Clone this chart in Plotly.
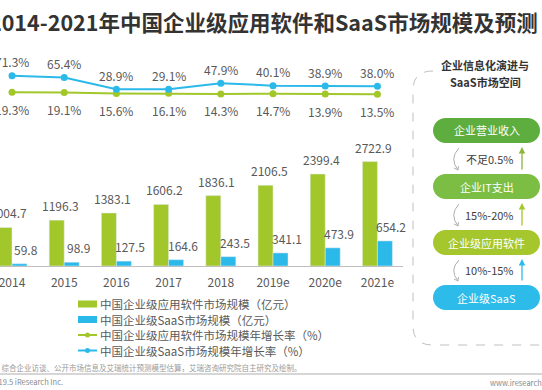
import plotly.graph_objects as go

# ---------------- data ----------------
years = ["2014", "2015", "2016", "2017", "2018", "2019e", "2020e", "2021e"]
app_software = [1004.7, 1196.3, 1383.1, 1606.2, 1836.1, 2106.5, 2399.4, 2722.9]
saas = [59.8, 98.9, 127.5, 164.6, 243.5, 341.1, 473.9, 654.2]
app_growth = [19.3, 19.1, 15.6, 16.1, 14.3, 14.7, 13.9, 13.5]
saas_growth = [71.3, 65.4, 28.9, 29.1, 47.9, 40.1, 38.9, 38.0]

legend_names = [
    "中国企业级应用软件市场规模（亿元）",
    "中国企业级SaaS市场规模（亿元）",
    "中国企业级应用软件市场规模年增长率（%）",
    "中国企业级SaaS市场规模年增长率（%）",
]
title_text = "2014-2021年中国企业级应用软件和SaaS市场规模及预测"
source_text = "来源：综合企业访谈、公开市场信息及艾瑞统计预测模型估算，艾瑞咨询研究院自主研究及绘制。"
copyright_text = "©2019.5 iResearch Inc."
website_text = "www.iresearch.com.cn"
panel_title = ["企业信息化演进与", "SaaS市场空间"]
pill_labels = ["企业营业收入", "企业IT支出", "企业级应用软件", "企业级SaaS"]
ratio_labels = ["不足0.5%", "15%-20%", "10%-15%"]

# ---------------- styles ----------------
W, H = 542, 390
GREEN = "#A2C72A"
BLUE = "#2BB9EA"
TXT = "#595959"
FONT = "Noto Sans CJK SC"
pill_colors = ["#5EAE3F", "#7BBE43", "#A5C72D", "#2DBBEA"]
up_arrow_colors = ["#8DB43C", "#A5C72D", "#2DBBEA"]


def X(px):
    return px / W


def Y(py):
    return 1 - py / H


fig = go.Figure()

fig.add_trace(go.Bar(x=years, y=app_software, marker_color=GREEN, name=legend_names[0],
                     xaxis="x", yaxis="y", showlegend=False))
fig.add_trace(go.Bar(x=years, y=saas, marker_color=BLUE, name=legend_names[1],
                     xaxis="x", yaxis="y", showlegend=False))
fig.add_trace(go.Scatter(x=years, y=app_growth, mode="lines+markers", name=legend_names[2],
                         line=dict(color=GREEN, width=2), marker=dict(size=7, color=GREEN),
                         xaxis="x", yaxis="y2", showlegend=False, cliponaxis=False))
fig.add_trace(go.Scatter(x=years, y=saas_growth, mode="lines+markers", name=legend_names[3],
                         line=dict(color=BLUE, width=2), marker=dict(size=7, color=BLUE),
                         xaxis="x", yaxis="y2", showlegend=False, cliponaxis=False))

annotations = []
shapes = []

# bar value labels (x given as category index, since the year strings look numeric)
for i, v in enumerate(app_software):
    annotations.append(dict(x=i, y=v, xref="x", yref="y", text=f"{v:.1f}", showarrow=False,
                            xanchor="center", yanchor="bottom", xshift=-4, yshift=4,
                            font=dict(size=12, color=TXT, family=FONT)))
for i, v in enumerate(saas):
    annotations.append(dict(x=i, y=v, xref="x", yref="y", text=f"{v:.1f}", showarrow=False,
                            xanchor="center", yanchor="bottom", xshift=14, yshift=4,
                            font=dict(size=12, color=TXT, family=FONT)))
# growth labels
for i, v in enumerate(saas_growth):
    annotations.append(dict(x=i, y=v, xref="x", yref="y2", text=f"{v:.1f}%", showarrow=False,
                            xanchor="center", yanchor="middle", yshift=14,
                            font=dict(size=12, color=TXT, family=FONT)))
for i, v in enumerate(app_growth):
    annotations.append(dict(x=i, y=v, xref="x", yref="y2", text=f"{v:.1f}%", showarrow=False,
                            xanchor="center", yanchor="middle", yshift=-17,
                            font=dict(size=12, color=TXT, family=FONT)))

# title
annotations.append(dict(x=0, y=Y(21), xref="paper", yref="paper", text=f"<b>{title_text}</b>",
                        showarrow=False, xanchor="left", yanchor="middle", xshift=-13,
                        font=dict(size=21.5, color="#333333", family=FONT)))

# custom legend
leg_x0, leg_x1, leg_tx = 78, 97, 98
leg_rows = [304, 319.5, 335, 350.5]
for i, (name, ry) in enumerate(zip(legend_names, leg_rows)):
    col = GREEN if i % 2 == 0 else BLUE
    if i < 2:
        shapes.append(dict(type="rect", xref="paper", yref="paper", x0=X(leg_x0), x1=X(leg_x1),
                           y0=Y(ry + 3.5), y1=Y(ry - 3.5), fillcolor=col, line=dict(width=0)))
    else:
        shapes.append(dict(type="line", xref="paper", yref="paper", x0=X(leg_x0), x1=X(leg_x1),
                           y0=Y(ry), y1=Y(ry), line=dict(color=col, width=2)))
        cx = (leg_x0 + leg_x1) / 2
        shapes.append(dict(type="circle", xref="paper", yref="paper", x0=X(cx - 2.5), x1=X(cx + 2.5),
                           y0=Y(ry + 2.5), y1=Y(ry - 2.5), fillcolor=col, line=dict(width=0)))
    annotations.append(dict(x=X(leg_tx), y=Y(ry), xref="paper", yref="paper", text=name,
                            showarrow=False, xanchor="left", yanchor="middle",
                            font=dict(size=11.5, color=TXT, family=FONT)))

# footer
annotations.append(dict(x=0, y=Y(367), xref="paper", yref="paper", text=source_text, showarrow=False,
                        xanchor="left", yanchor="middle", xshift=-23,
                        font=dict(size=7.5, color="#9a9a9a", family=FONT)))
shapes.append(dict(type="line", xref="paper", yref="paper", x0=0, x1=1, y0=Y(374), y1=Y(374),
                   line=dict(color="#c8c8c8", width=1.5)))
annotations.append(dict(x=0, y=Y(381), xref="paper", yref="paper", text=copyright_text, showarrow=False,
                        xanchor="left", yanchor="middle", xshift=-18,
                        font=dict(size=7.5, color="#8a8a8a", family=FONT)))
annotations.append(dict(x=X(488), y=Y(382), xref="paper", yref="paper", text=website_text, showarrow=False,
                        xanchor="left", yanchor="middle",
                        font=dict(size=7.5, color="#8a8a8a", family=FONT)))

# right panel heading
for line, ly in zip(panel_title, [65, 82]):
    annotations.append(dict(x=X(485), y=Y(ly), xref="paper", yref="paper", text=f"<b>{line}</b>",
                            showarrow=False, xanchor="center", yanchor="middle",
                            font=dict(size=11, color="#333333", family=FONT)))


def P(x, y):
    return f"{X(x):.5f},{Y(y):.5f}"


bracket = (f"M {P(433, 71)} Q {P(413, 71)} {P(413, 90)} L {P(413, 326)} "
           f"Q {P(413, 345)} {P(433, 345)} L {P(542, 345)}")
shapes.append(dict(type="path", xref="paper", yref="paper", path=bracket,
                   line=dict(color="#c0c0c0", width=1, dash="dash")))

pill_y = [(118, 143), (174, 199), (230, 255), (285, 310)]
px0, px1 = 433, 540
for (y0, y1), col, lab in zip(pill_y, pill_colors, pill_labels):
    r = (y1 - y0) / 2
    k = 0.5523 * r
    path = (f"M {P(px0 + r, y0)} L {P(px1 - r, y0)} "
            f"C {P(px1 - r + k, y0)} {P(px1, y0 + r - k)} {P(px1, y0 + r)} "
            f"C {P(px1, y0 + r + k)} {P(px1 - r + k, y1)} {P(px1 - r, y1)} "
            f"L {P(px0 + r, y1)} "
            f"C {P(px0 + r - k, y1)} {P(px0, y0 + r + k)} {P(px0, y0 + r)} "
            f"C {P(px0, y0 + r - k)} {P(px0 + r - k, y0)} {P(px0 + r, y0)} Z")
    shapes.append(dict(type="path", xref="paper", yref="paper", path=path,
                       fillcolor=col, line=dict(width=0)))
    annotations.append(dict(x=X((px0 + px1) / 2), y=Y((y0 + y1) / 2), xref="paper", yref="paper",
                            text=lab, showarrow=False, xanchor="center", yanchor="middle",
                            font=dict(size=11, color="white", family=FONT)))

for i, lab in enumerate(ratio_labels):
    top = pill_y[i][1]
    bot = pill_y[i + 1][0]
    mid = (top + bot) / 2
    annotations.append(dict(x=X(489), y=Y(mid), xref="paper", yref="paper", text=lab,
                            showarrow=False, xanchor="center", yanchor="middle",
                            font=dict(size=11, color="#404040", family=FONT)))
    # gray curved down arrow on the left
    ya, yb = top + 5, bot - 4
    curve = f"M {P(459, ya)} Q {P(449, mid)} {P(458, yb)}"
    shapes.append(dict(type="path", xref="paper", yref="paper", path=curve,
                       line=dict(color="#b0b0b0", width=1)))
    head = f"M {P(454, yb - 2)} L {P(458, yb)} L {P(458.5, yb - 4)}"
    shapes.append(dict(type="path", xref="paper", yref="paper", path=head,
                       line=dict(color="#b0b0b0", width=1)))
    # colored up arrow on the right
    head_y = top + 4
    tail_y = bot - 3
    annotations.append(dict(x=X(522), y=Y(head_y), xref="paper", yref="paper",
                            ax=0, ay=tail_y - head_y, axref="pixel", ayref="pixel",
                            text="", showarrow=True,
                            arrowhead=2, arrowsize=1, arrowwidth=1.3, arrowcolor=up_arrow_colors[i]))

fig.update_layout(
    width=W, height=H,
    margin=dict(l=0, r=0, t=0, b=0),
    paper_bgcolor="white", plot_bgcolor="rgba(0,0,0,0)",
    barmode="group", bargap=0.425, bargroupgap=0,
    font=dict(family=FONT, color=TXT),
    xaxis=dict(domain=[0, X(403)], type="category", categoryorder="array", categoryarray=years,
               range=[-0.23, 7.49], showline=True, linecolor="#bfbfbf", linewidth=1,
               ticks="", showgrid=False, zeroline=False, anchor="y",
               tickfont=dict(size=12, color=TXT, family=FONT), ticklabelstandoff=6),
    yaxis=dict(domain=[Y(266), Y(151)], range=[0, 3000], showgrid=False, zeroline=False,
               showticklabels=False, showline=False, anchor="x"),
    yaxis2=dict(domain=[Y(98.5), Y(66.5)], range=[0, 100], showgrid=False, zeroline=False,
                showticklabels=False, showline=False, anchor="x"),
    annotations=annotations,
    shapes=shapes,
    showlegend=False,
)

# the page body has a default 8px margin; remove it so the figure fills the window
fig.write_html("out.html", config={"displayModeBar": False},
               post_script="document.body.style.margin='0';")
